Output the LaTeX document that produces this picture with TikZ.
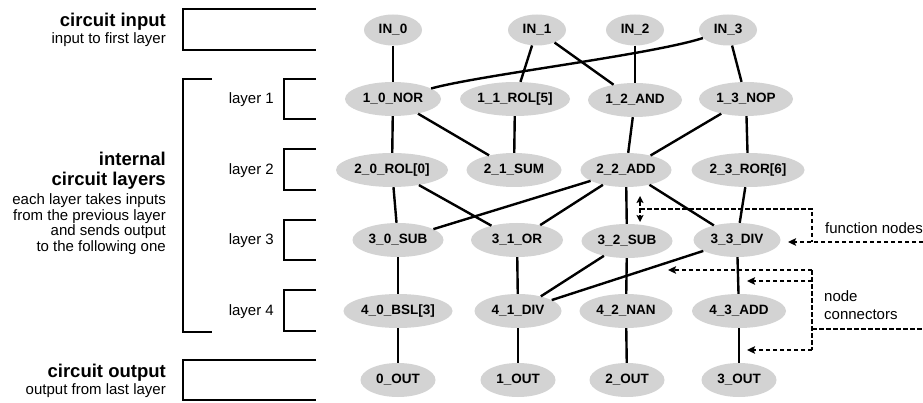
\documentclass[tikz,border=0pt]{standalone}
\usepackage{fontspec}
\setmainfont{Liberation Sans}
\usetikzlibrary{shapes.geometric,arrows.meta}
\definecolor{nodegray}{HTML}{D3D3D3}
\begin{document}
\begin{tikzpicture}[x=1pt,y=-1pt,
  fn/.style={ellipse, fill=nodegray, inner sep=0pt, minimum height=34pt,
    font=\fontsize{13.5}{15}\selectfont\bfseries},
  innode/.style={fn, minimum height=31pt, minimum width=58pt},
  outnode/.style={fn, minimum width=75pt},
  edge/.style={line width=2.4pt},
  brk/.style={line width=2.5pt},
  ann/.style={line width=2.3pt, dash pattern=on 4.5pt off 2.5pt},
  tip/.style={-{Stealth[length=8pt,width=7.5pt,inset=1.5pt]}},
  ttl/.style={anchor=base east, font=\fontsize{18.5}{20}\selectfont\bfseries, inner sep=0pt},
  sub/.style={anchor=base east, font=\fontsize{15}{16}\selectfont, inner sep=0pt},
  lay/.style={anchor=base east, font=\fontsize{15}{16}\selectfont, inner sep=0pt},
  note/.style={anchor=base west, font=\fontsize{15}{16}\selectfont, inner sep=0pt}
]
\path[fill=white] (0,0) rectangle (923,403);
\useasboundingbox (0,0) rectangle (923,403);

% left labels
\node[ttl] (t1) at (166,26.5) {circuit input};
\node[sub] (s1) at (166,44) {input to first layer};
\node[ttl] (t2) at (166,166) {internal};
\node[ttl] (t3) at (166,186) {circuit layers};
\node[sub] (s2) at (166,205) {each layer takes inputs};
\node[sub] (s3) at (166,220.5) {from the previous layer};
\node[sub] (s4) at (166,236) {and sends output};
\node[sub] (s5) at (166,251.5) {to the following one};
\node[ttl] (t4) at (166,377) {circuit output};
\node[sub] (s6) at (166,394) {output from last layer};

\node[lay] (l1) at (274,104) {layer 1};
\node[lay] (l2) at (274,175) {layer 2};
\node[lay] (l3) at (274,245) {layer 3};
\node[lay] (l4) at (274,315.5) {layer 4};

% brackets
\draw[brk] (316,9) -- (183,9) -- (183,50) -- (316,50);
\draw[brk] (212,79) -- (183,79) -- (183,332) -- (212,332);
\draw[brk] (316,79) -- (284,79) -- (284,119) -- (316,119);
\draw[brk] (316,149) -- (284,149) -- (284,190) -- (316,190);
\draw[brk] (316,220) -- (284,220) -- (284,260) -- (316,260);
\draw[brk] (316,290) -- (284,290) -- (284,331) -- (316,331);
\draw[brk] (316,360) -- (183,360) -- (183,400) -- (316,400);

% nodes
\node[innode] (in0) at (393,30) {IN\_0};
\node[innode] (in1) at (537,30) {IN\_1};
\node[innode] (in2) at (635,30) {IN\_2};
\node[innode] (in3) at (728,30) {IN\_3};

\node[fn, minimum width=96pt] (n10) at (393,99) {1\_0\_NOR};
\node[fn, minimum width=110pt] (n11) at (515,99) {1\_1\_ROL[5]};
\node[fn, minimum width=94pt] (n12) at (635,100) {1\_2\_AND};
\node[fn, minimum width=94pt] (n13) at (746,99) {1\_3\_NOP};

\node[fn, minimum width=112pt] (n20) at (392,170) {2\_0\_ROL[0]};
\node[fn, minimum width=95pt] (n21) at (514,170) {2\_1\_SUM};
\node[fn, minimum width=91pt] (n22) at (626,170) {2\_2\_ADD};
\node[fn, minimum width=113pt] (n23) at (748,170) {2\_3\_ROR[6]};

\node[fn, minimum width=91pt] (n30) at (398,240) {3\_0\_SUB};
\node[fn, minimum width=92pt] (n31) at (517,240) {3\_1\_OR};
\node[fn, minimum width=91pt] (n32) at (627,241) {3\_2\_SUB};
\node[fn, minimum width=87pt] (n33) at (737,240) {3\_3\_DIV};

\node[fn, minimum width=109pt] (n40) at (398,311) {4\_0\_BSL[3]};
\node[fn, minimum width=87pt] (n41) at (518,311) {4\_1\_DIV};
\node[fn, minimum width=93pt] (n42) at (626,311) {4\_2\_NAN};
\node[fn, minimum width=94pt] (n43) at (739,311) {4\_3\_ADD};

\node[outnode] (o0) at (398,380) {0\_OUT};
\node[outnode] (o1) at (518,380) {1\_OUT};
\node[outnode] (o2) at (627,380) {2\_OUT};
\node[outnode] (o3) at (739,380) {3\_OUT};

% edges
\draw[edge] (in0) -- (n10);
\draw[edge] (in1) -- (n11);
\draw[edge] (in1) -- (n12);
\draw[edge] (in2) -- (n12);
\draw[edge] (n10) .. controls (480,75) and (650,55) .. (in3);
\draw[edge] (in3) -- (n13);

\draw[edge] (n10) -- (n20);
\draw[edge] (n10) -- (n21);
\draw[edge] (n11) -- (n21);
\draw[edge] (n12) -- (n22);
\draw[edge] (n13) -- (n22);
\draw[edge] (n13) -- (n23);

\draw[edge] (n20) -- (n30);
\draw[edge] (n20) -- (n31);
\draw[edge] (n22) -- (n30);
\draw[edge] (n22) -- (n31);
\draw[edge] (n22) -- (n32);
\draw[edge] (n22) -- (n33);
\draw[edge] (n23) -- (n33);

\draw[edge] (n30) -- (n40);
\draw[edge] (n31) -- (n41);
\draw[edge] (n32) -- (n41);
\draw[edge] (n33) -- (n41);
\draw[edge] (n32) -- (n42);
\draw[edge] (n33) -- (n43);

\draw[edge] (n40) -- (o0);
\draw[edge] (n41) -- (o1);
\draw[edge] (n42) -- (o2);
\draw[edge] (n43) -- (o3);

% annotation: function nodes
\coordinate (fa) at (640,196);
\coordinate (fb) at (640,222);
\coordinate (fm) at (640,209);
\coordinate (fc) at (812,209);
\coordinate (fd) at (812,242);
\coordinate (fe) at (923,242);
\coordinate (ft) at (788,242);
\draw[ann,{Stealth[length=7pt,width=7pt,inset=1.5pt]}-{Stealth[length=7pt,width=7pt,inset=1.5pt]}] (fa) -- (fb);
\draw[ann] (fm) -- (fc) -- (fd);
\draw[ann,tip] (fe) -- (ft);
\node[note] (fnl) at (825,234) {function nodes};

% annotation: node connectors
\coordinate (c1) at (812,270);
\coordinate (c2) at (812,281);
\coordinate (c3) at (812,350);
\coordinate (c4) at (812,329);
\coordinate (e4) at (923,329);
\coordinate (k1) at (668,270);
\coordinate (k2) at (747,281);
\coordinate (k3) at (747,350);
\draw[ann] (c1) -- (c3);
\draw[ann,tip] (c1) -- (k1);
\draw[ann,tip] (c2) -- (k2);
\draw[ann,tip] (c3) -- (k3);
\draw[ann] (c4) -- (e4);
\node[note] (ncl1) at (824,301) {node};
\node[note] (ncl2) at (824,319) {connectors};
\end{tikzpicture}
\end{document}
